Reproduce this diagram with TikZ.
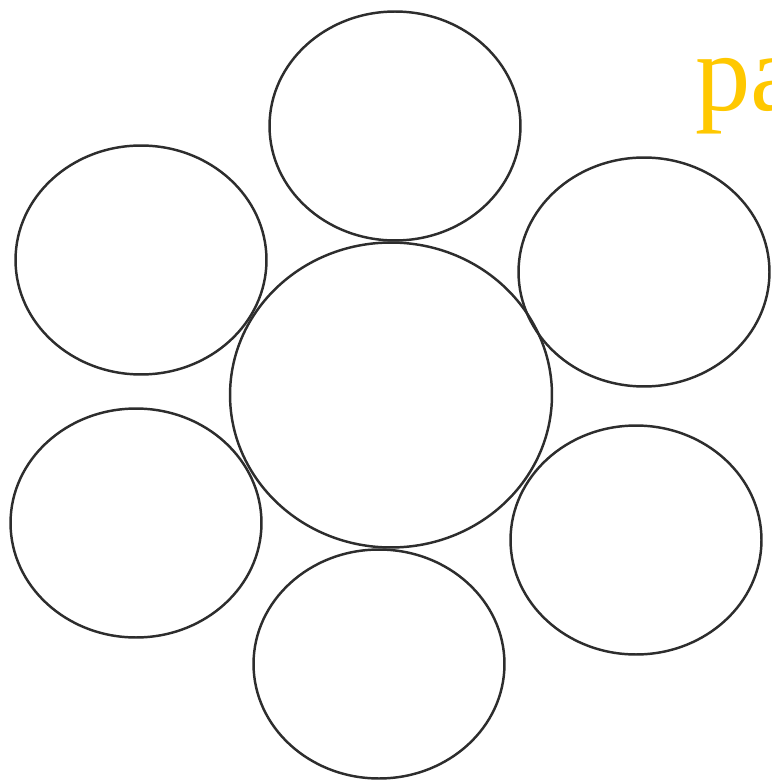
\documentclass[tikz,border=0pt]{standalone}
\usepackage{fontspec}
\setmainfont{Liberation Serif}
\usetikzlibrary{shapes.geometric}
\definecolor{gold}{RGB}{255,200,0}
\definecolor{ring}{RGB}{45,45,45}

\begin{document}
\begin{tikzpicture}[
    x=0.02cm, y=-0.02cm,
    petal/.style={draw=ring, ellipse, line width=1.4pt, inner sep=0pt, minimum width=5.02cm, minimum height=4.58cm},
    core/.style={draw=ring, ellipse, line width=1.4pt, inner sep=0pt, minimum width=6.44cm, minimum height=6.1cm},
    lab/.style={text=gold, inner sep=0pt, font=\fontsize{63}{63}\selectfont}
  ]
    \useasboundingbox (0,0) rectangle (771,783);
    \clip (0,0) rectangle (771,783);

    \node[core] (mid) at (391,395) {};
    \node[petal] (top) at (395,126) {};
    \node[petal] (ul) at (141,260) {};
    \node[petal] (ur) at (644,272) {};
    \node[petal] (ll) at (136,523) {};
    \node[petal] (lr) at (636,540) {};
    \node[petal] (bot) at (379,664) {};

    \node[lab, anchor=base west] (txt) at (695,111) {pa};
\end{tikzpicture}
\end{document}
